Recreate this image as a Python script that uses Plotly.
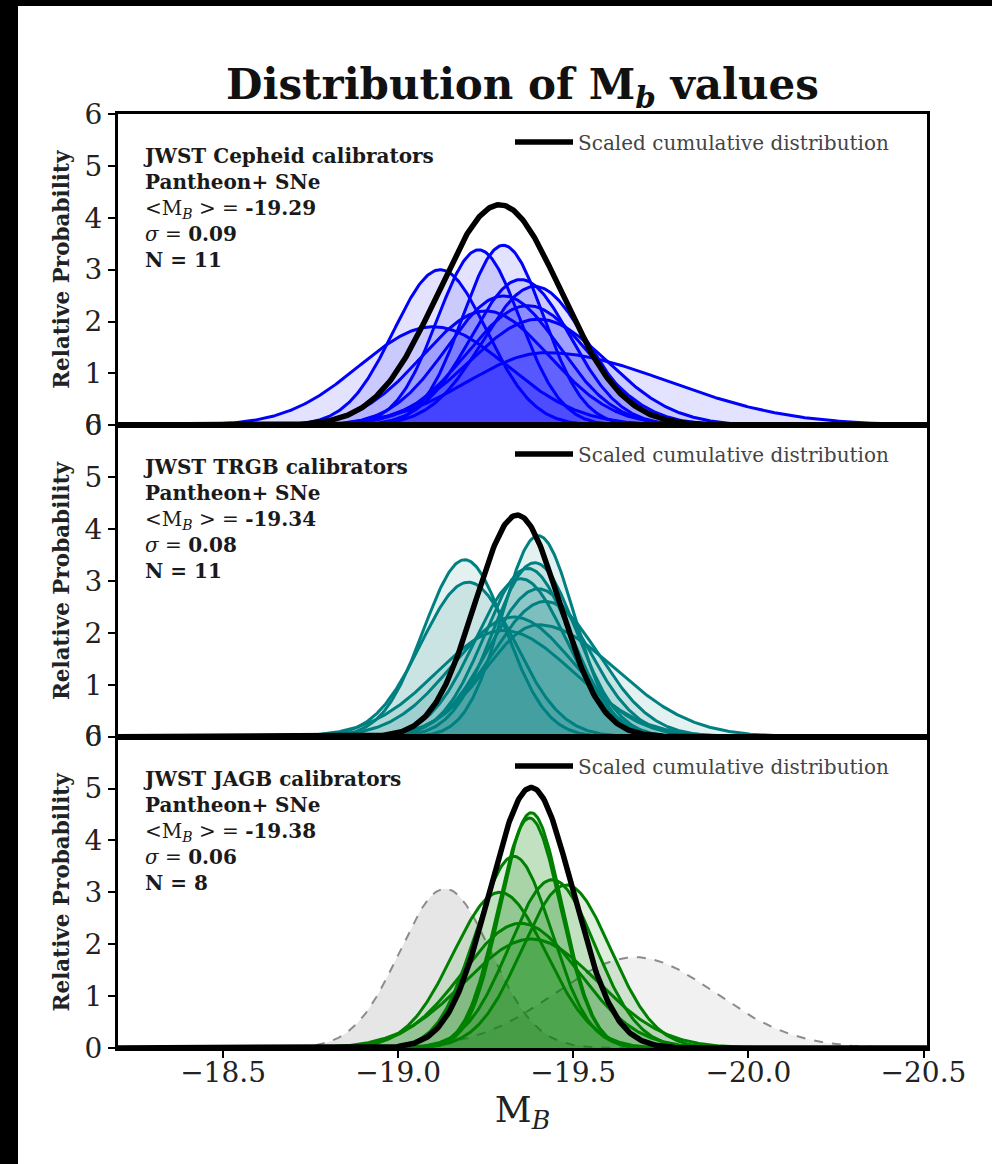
import numpy as np
import plotly.graph_objects as go
from plotly.subplots import make_subplots

# ---------------------------------------------------------------
# Per-SN posterior of M_B for each calibrator sample.
# Each curve is a (possibly asymmetric) normal density:
#   mu  : centre
#   sf  : width on the faint side (M_B > mu)
#   sb  : width on the bright side (M_B < mu)
# ---------------------------------------------------------------
ceph_mu = [-19.12, -19.23, -19.30, -19.10, -19.35, -19.39, -19.30, -19.37, -19.40, -19.42, -19.25]
ceph_sf = [0.133, 0.118, 0.115, 0.210, 0.142, 0.149, 0.160, 0.173, 0.195, 0.220, 0.181]
ceph_sb = [0.133, 0.118, 0.115, 0.210, 0.142, 0.149, 0.160, 0.173, 0.195, 0.350, 0.181]

trgb_mu = [-19.19, -19.20, -19.40, -19.39, -19.37, -19.35, -19.40, -19.42, -19.33, -19.40, -19.30]
trgb_sf = [0.117, 0.134, 0.103, 0.119, 0.123, 0.131, 0.140, 0.153, 0.173, 0.150, 0.190]
trgb_sb = [0.117, 0.134, 0.103, 0.119, 0.123, 0.131, 0.140, 0.153, 0.173, 0.220, 0.200]

jagb_mu = [-19.38, -19.375, -19.33, -19.44, -19.48, -19.29, -19.38, -19.35]
jagb_sf = [0.088, 0.090, 0.108, 0.123, 0.127, 0.133, 0.190, 0.166]
jagb_sb = [0.088, 0.090, 0.108, 0.123, 0.127, 0.133, 0.190, 0.166]

# JAGB objects left out of the sample (dashed grey)
excl_mu = [-19.134, -19.677]
excl_sf = [0.130, 0.228]
excl_sb = [0.130, 0.228]

# Scaled cumulative distribution of each sample: centre, width, peak height
cum_mu = [-19.29, -19.34, -19.38]
cum_width = [0.175, 0.120, 0.118]
cum_peak = [4.25, 4.27, 5.02]

# Summary numbers printed in each panel
sample_names = ["JWST Cepheid calibrators", "JWST TRGB calibrators", "JWST JAGB calibrators"]
mean_labels = ["-19.29", "-19.34", "-19.38"]
sigma_labels = ["0.09", "0.08", "0.06"]
n_labels = ["11", "11", "8"]

x_ticks = [-18.5, -19.0, -19.5, -20.0, -20.5]
y_ticks = [0, 1, 2, 3, 4, 5, 6]

SERIF = "DejaVu Serif, Liberation Serif, serif"
W, H = 992, 1164
L, R, T, B = 118, 65, 114, 116

xs = np.linspace(-18.2, -20.52, 700)


def split_normal(x, mu, sf, sb):
    s = np.where(x > mu, sf, sb)
    return np.sqrt(2.0 / np.pi) / (sf + sb) * np.exp(-0.5 * ((x - mu) / s) ** 2)


def scaled_gauss(x, mu, w, peak):
    return peak * np.exp(-0.5 * ((x - mu) / w) ** 2)


fig = make_subplots(rows=3, cols=1, shared_xaxes=True, vertical_spacing=0)

panels = [
    (ceph_mu, ceph_sf, ceph_sb, "rgb(0,0,255)", "rgba(0,0,255,0.11)"),
    (trgb_mu, trgb_sf, trgb_sb, "rgb(0,128,128)", "rgba(0,128,128,0.11)"),
    (jagb_mu, jagb_sf, jagb_sb, "rgb(0,128,0)", "rgba(0,128,0,0.13)"),
]

# grey dashed curves sit underneath the green sample
for mu, sf, sb, fc in zip(excl_mu, excl_sf, excl_sb, ["rgba(128,128,128,0.2)", "rgba(128,128,128,0.11)"]):
    fig.add_trace(go.Scatter(
        x=xs, y=split_normal(xs, mu, sf, sb), mode="lines",
        line=dict(color="rgb(140,140,140)", width=2, dash="dash"),
        fill="tozeroy", fillcolor=fc, showlegend=False, hoverinfo="skip"),
        row=3, col=1)

legend_names = ["legend", "legend2", "legend3"]
for i, (mus, sfs, sbs, lc, fc) in enumerate(panels):
    row = i + 1
    for mu, sf, sb in zip(mus, sfs, sbs):
        fig.add_trace(go.Scatter(
            x=xs, y=split_normal(xs, mu, sf, sb), mode="lines",
            line=dict(color=lc, width=3),
            fill="tozeroy", fillcolor=fc, showlegend=False, hoverinfo="skip"),
            row=row, col=1)
    fig.add_trace(go.Scatter(
        x=xs, y=scaled_gauss(xs, cum_mu[i], cum_width[i], cum_peak[i]), mode="lines",
        line=dict(color="black", width=5.5),
        name="Scaled cumulative distribution", legend=legend_names[i],
        showlegend=True, hoverinfo="skip"),
        row=row, col=1)

plot_h = H - T - B
panel_h = plot_h / 3.0

# per-panel text block
for i in range(3):
    yd = "y domain" if i == 0 else f"y{i + 1} domain"
    text = "<br>".join([
        f"<b>{sample_names[i]}</b>",
        "<b>Pantheon+ SNe</b>",
        f"&lt;M<sub><i>B</i></sub> &gt; = <b>{mean_labels[i]}</b>",
        f"<i>σ</i> = <b>{sigma_labels[i]}</b>",
        f"<b>N = {n_labels[i]}</b>",
    ])
    fig.add_annotation(
        text=text, xref="x domain", yref=yd,
        x=(141 - L) / (W - L - R), y=1 - 28 / panel_h,
        xanchor="left", yanchor="top", align="left", showarrow=False,
        font=dict(family=SERIF, size=20, color="#1a1a1a"))

# legends, one per panel
legend_tops = [142, 454, 766]
for name, py in zip(legend_names, legend_tops):
    fig.update_layout({name: dict(
        x=(510 - L) / (W - L - R), y=(H - B - py) / plot_h,
        xanchor="left", yanchor="middle",
        bgcolor="rgba(0,0,0,0)", borderwidth=0,
        font=dict(family=SERIF, size=20, color="#444"),
        itemwidth=58)})

axis_common = dict(
    showline=True, linewidth=3, linecolor="black", mirror=True,
    showgrid=False, zeroline=False,
)
for r in range(1, 4):
    fig.update_yaxes(
        range=[0, 6], tickvals=y_ticks, ticks="outside", ticklen=7, tickwidth=1.5,
        tickcolor="black", tickfont=dict(family=SERIF, size=28, color="#222"),
        title=dict(text="<b>Relative Probability</b>", standoff=10,
                   font=dict(family=SERIF, size=21.5, color="#222")),
        **axis_common, row=r, col=1)
    fig.update_xaxes(
        range=[-18.2, -20.51], tickvals=x_ticks, tickformat=".1f",
        ticks="outside" if r == 3 else "", ticklen=7, tickwidth=1.5, tickcolor="black",
        showticklabels=(r == 3), ticklabelstandoff=-10,
        tickfont=dict(family=SERIF, size=28, color="#222"),
        **axis_common, row=r, col=1)

fig.update_xaxes(title=dict(text="M<sub><i>B</i></sub>", standoff=0,
                            font=dict(family=SERIF, size=36, color="#222")), row=3, col=1)

# dark strips along the top and left edges of the page
fig.add_shape(type="rect", xref="paper", yref="paper", layer="above",
              x0=-L / (W - L - R), x1=(18 - L) / (W - L - R),
              y0=-B / plot_h, y1=(H - B) / plot_h,
              line=dict(width=0), fillcolor="black")
fig.add_shape(type="rect", xref="paper", yref="paper", layer="above",
              x0=-L / (W - L - R), x1=(W - L) / (W - L - R),
              y0=(H - B - 6) / plot_h, y1=(H - B) / plot_h,
              line=dict(width=0), fillcolor="black")

fig.update_layout(
    width=W, height=H,
    margin=dict(l=L, r=R, t=T, b=B, autoexpand=False),
    paper_bgcolor="white", plot_bgcolor="white",
    title=dict(text="<b>Distribution of M<sub><i>b</i></sub> values</b>",
               x=0.5, xref="paper", xanchor="center",
               y=1 - 84 / H, yanchor="middle",
               font=dict(family=SERIF, size=42, color="#111")),
    showlegend=True,
)

fig.write_html("out.html")
